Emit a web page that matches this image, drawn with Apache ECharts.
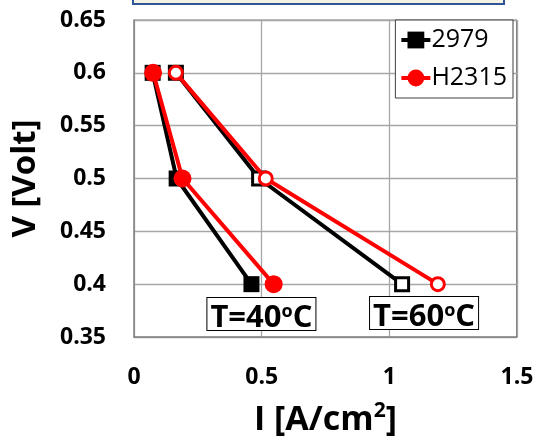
<!DOCTYPE html>
<html><head><meta charset="utf-8">
<script src="https://cdn.jsdelivr.net/npm/echarts@6/dist/echarts.min.js"></script>
<style>html,body{margin:0;padding:0;background:#fff}#c{width:537px;height:443px}</style>
</head><body><div id="c"></div>
<script>
// Data
const xTicks = [0, 0.5, 1, 1.5];
const yTicks = [0.35, 0.4, 0.45, 0.5, 0.55, 0.6, 0.65];
const voltage = [0.6, 0.5, 0.4];
const current_2979_40 = [0.073, 0.167, 0.46];
const current_H2315_40 = [0.075, 0.19, 0.547];
const current_2979_60 = [0.164, 0.49, 1.05];
const current_H2315_60 = [0.164, 0.516, 1.19];
const seriesNames = ['2979', 'H2315'];
const annotations = [
  {text: 'T=40', x: 0.499, y: 0.3718},
  {text: 'T=60', x: 1.136, y: 0.3727}
];

const pairs = (xs) => xs.map((x, i) => [x, voltage[i]]);
const font = '"Open Sans", "Noto Sans", sans-serif';
const chart = echarts.init(document.getElementById('c'));
chart.setOption({
  animation: false,
  textStyle: {fontFamily: font},
  grid: {left: 134, right: 20, top: 20, bottom: 106},
  legend: {
    data: seriesNames,
    orient: 'vertical', right: 24, top: 20,
    borderColor: '#404040', borderWidth: 1, padding: [7, 6, 7, 4],
    itemGap: 12, itemWidth: 29, itemHeight: 21,
    lineStyle: {width: 4},
    textStyle: {fontSize: 25, color: '#000', fontFamily: font, lineHeight: 26, padding: [0, 0, 0, -4]},
    backgroundColor: '#fff'
  },
  xAxis: {
    type: 'value', min: 0, max: 1.5, interval: 0.5,
    name: '{a|I [A/cm}{s|2}{a|]}', nameLocation: 'middle', nameGap: 64,
    nameTextStyle: {
      rich: {
        a: {fontSize: 34, fontWeight: 'bold', color: '#000', fontFamily: font, lineHeight: 38},
        s: {fontSize: 21, fontWeight: 'bold', color: '#000', fontFamily: font, verticalAlign: 'top', lineHeight: 38, padding: [0, 0, 15, 0]}
      }
    },
    axisLine: {show: true, lineStyle: {color: '#808080', width: 1.5}},
    axisTick: {show: false},
    axisLabel: {fontSize: 23, fontWeight: 'bold', color: '#000', margin: 29, fontFamily: font,
      formatter: v => String(v)},
    splitLine: {show: true, lineStyle: {color: '#A6A6A6', width: 1.3}}
  },
  yAxis: {
    type: 'value', min: 0.35, max: 0.65, interval: 0.05,
    name: 'V [Volt]', nameLocation: 'middle', nameGap: 92,
    nameTextStyle: {fontSize: 33, fontWeight: 'bold', color: '#000', fontFamily: font},
    axisLine: {show: true, lineStyle: {color: '#808080', width: 1.5}},
    axisTick: {show: false},
    axisLabel: {fontSize: 23, fontWeight: 'bold', color: '#000', margin: 28, fontFamily: font,
      formatter: v => String(+v.toFixed(2))},
    splitLine: {show: true, lineStyle: {color: '#A6A6A6', width: 1.3}}
  },
  graphic: [
    {type: 'rect', shape: {x: 133, y: -10, width: 371, height: 14},
     style: {fill: '#F4F2E4', stroke: '#2F5597', lineWidth: 2}},
    {type: 'rect', shape: {x: 516, y: 20, width: 1.5, height: 317}, style: {fill: '#808080'}},
    {type: 'rect', shape: {x: 134, y: 19.5, width: 383, height: 1.5}, style: {fill: '#808080'}}
  ],
  series: [
    {name: '2979', type: 'line', data: pairs(current_2979_40), symbol: 'rect', symbolSize: 16,
     lineStyle: {color: '#000', width: 4}, itemStyle: {color: '#000'}, z: 2},
    {name: '2979', type: 'line', data: pairs(current_2979_60), symbol: 'rect', symbolSize: 13,
     lineStyle: {color: '#000', width: 4}, itemStyle: {color: '#fff', borderColor: '#000', borderWidth: 3}, z: 2},
    {name: 'H2315', type: 'line', data: pairs(current_H2315_40), symbol: 'circle', symbolSize: 18,
     lineStyle: {color: '#FF0000', width: 4}, itemStyle: {color: '#FF0000'}, z: 3},
    {name: 'H2315', type: 'line', data: pairs(current_H2315_60), symbol: 'circle', symbolSize: 13,
     lineStyle: {color: '#FF0000', width: 4}, itemStyle: {color: '#fff', borderColor: '#FF0000', borderWidth: 3}, z: 3,
     markPoint: {
       symbol: 'rect', symbolSize: 0,
       data: annotations.map(a => ({coord: [a.x, a.y], value: a.text})),
       label: {
         show: true, position: 'inside',
         formatter: p => '{t|' + p.value + '}{s|o}{t|C}',
         backgroundColor: '#fff', borderColor: '#000', borderWidth: 1,
         padding: [9, 3, 0, 3],
         rich: {
           t: {fontSize: 31, fontWeight: 'bold', color: '#000', fontFamily: font, lineHeight: 23},
           s: {fontSize: 18, fontWeight: 'bold', color: '#000', fontFamily: font, verticalAlign: 'top', lineHeight: 10, height: 10}
         }
       }
     }}
  ]
});
</script></body></html>
